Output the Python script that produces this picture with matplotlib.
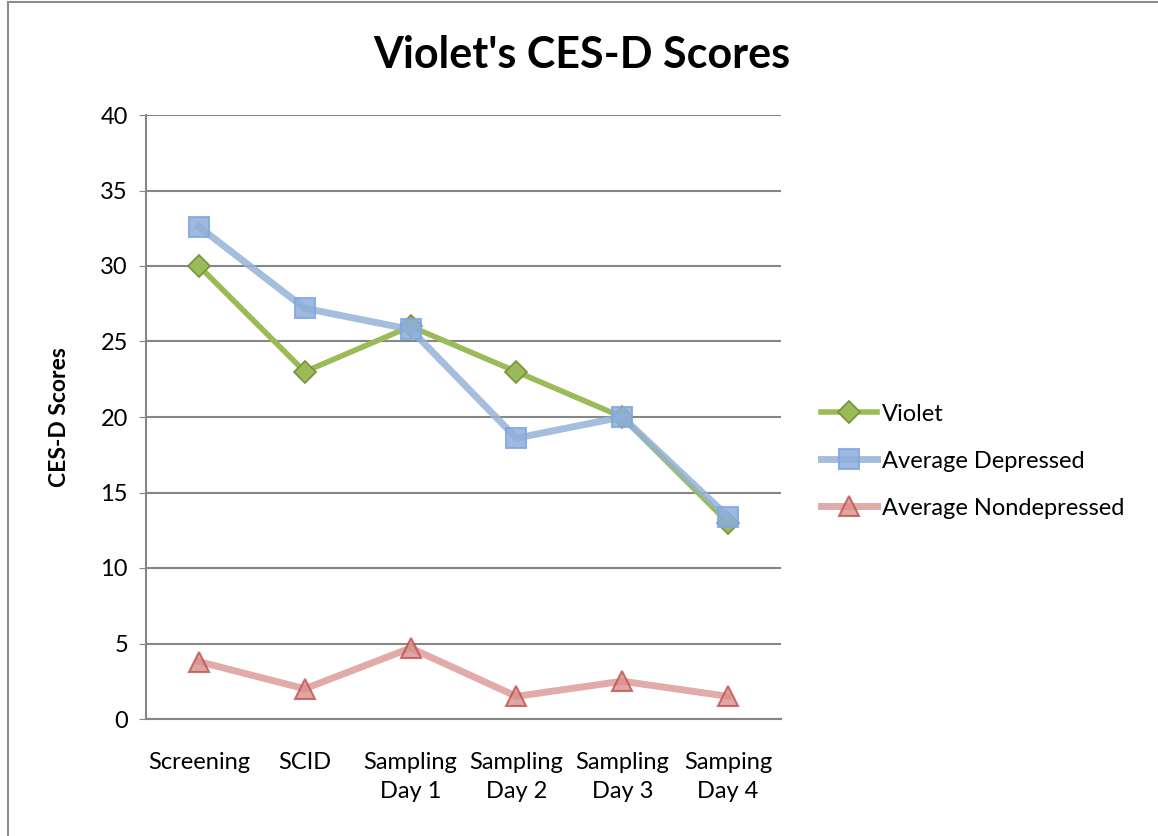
import matplotlib.pyplot as plt
from matplotlib.patches import Rectangle

categories = ['Screening', 'SCID', 'Sampling\nDay 1', 'Sampling\nDay 2', 'Sampling\nDay 3', 'Samping\nDay 4']
violet = [30, 23, 26, 23, 20, 13]
avg_depressed = [32.6, 27.2, 25.8, 18.6, 20.0, 13.4]
avg_nondepressed = [3.8, 2.0, 4.7, 1.5, 2.5, 1.5]

plt.rcParams['font.family'] = ['Lato', 'DejaVu Sans']

fig = plt.figure(figsize=(11.58, 8.36), dpi=100)
ax = fig.add_axes([146 / 1158, 1 - 719 / 836, (781 - 146) / 1158, (719 - 115) / 836])

# outer chart border (cut off at right and bottom like the source)
fig.patches.append(Rectangle((8 / 1158, -0.01), 1.2, 1 - 2 / 836 + 0.01, transform=fig.transFigure,
                             fill=False, edgecolor='#8c8c8c', linewidth=1.5))

x = range(len(categories))
ax.plot(x, violet, color='#9BBB59', linewidth=4, marker='D', markersize=11,
        markerfacecolor='#9BBB59', markeredgecolor='#76923C', markeredgewidth=1.2,
        label='Violet', zorder=3)
ax.plot(x, avg_depressed, color='#95B3D7', alpha=0.85, linewidth=5, marker='s', markersize=15,
        markerfacecolor='#8EAEDB', markeredgecolor='#7FA6E0', markeredgewidth=1.5,
        label='Average Depressed', zorder=4)
ax.plot(x, avg_nondepressed, color='#D99694', alpha=0.8, linewidth=5, marker='^', markersize=14,
        markerfacecolor='#D9908E', markeredgecolor='#C0504D', markeredgewidth=1.5,
        label='Average Nondepressed', zorder=3)

ax.set_xlim(-0.5, len(categories) - 0.5)
ax.set_ylim(0, 40)
ax.set_yticks(range(0, 41, 5))
ax.set_xticks(list(x))
ax.set_xticklabels(categories, fontsize=17, linespacing=1.45)
ax.tick_params(axis='y', labelsize=17, length=5, color='#868686', pad=8)
ax.tick_params(axis='x', length=0, pad=24)
ax.grid(axis='y', color='#868686', linewidth=1.5)
ax.set_axisbelow(True)
for s in ['top', 'right']:
    ax.spines[s].set_visible(False)
for s in ['left', 'bottom']:
    ax.spines[s].set_color('#868686')
    ax.spines[s].set_linewidth(1.5)

ax.set_ylabel('CES-D Scores', fontsize=16.5, fontweight='bold', labelpad=22)
fig.suptitle("Violet's CES-D Scores", fontsize=31, fontweight='bold', x=582 / 1158, y=1 - 55 / 836, va='center')

ax.legend(loc='center left', bbox_to_anchor=(1.029, 0.427), frameon=False, fontsize=17,
          handlelength=2.4, handletextpad=0.2, labelspacing=1.1)

fig.savefig('out.png', dpi=100)
